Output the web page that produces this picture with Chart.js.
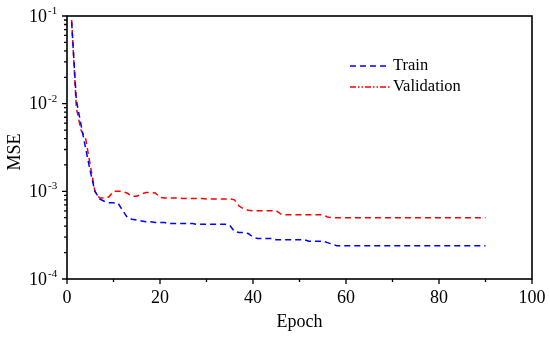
<!DOCTYPE html>
<html>
<head>
<meta charset="utf-8">
<script src="https://cdn.jsdelivr.net/npm/chart.js@4.4.0/dist/chart.umd.min.js"></script>
<style>
  body { margin: 0; background: #fff; }
  #wrap { width: 550px; height: 337px; }
</style>
</head>
<body>
<div id="wrap"><canvas id="myChart" width="550" height="337"></canvas></div>
<script>
// data (epoch 1..90)
var train = [
  0.085, 0.011, 0.0058, 0.0031, 0.0017, 0.001, 0.00082, 0.00077, 0.00074, 0.00074,
  0.00073, 0.0006, 0.0005, 0.00048, 0.00047, 0.00046, 0.00045, 0.00045, 0.00044, 0.00044,
  0.00044, 0.00043, 0.00043, 0.00043, 0.00043, 0.00043, 0.00043, 0.00042, 0.00042, 0.00042,
  0.00042, 0.00042, 0.00042, 0.00042, 0.00041, 0.00035, 0.00034, 0.00034, 0.00033, 0.0003,
  0.00029, 0.00029, 0.00029, 0.00029, 0.00028, 0.00028, 0.00028, 0.00028, 0.00028, 0.00028,
  0.00028, 0.00027, 0.00027, 0.00027, 0.00027, 0.00026, 0.00025, 0.00024, 0.00024, 0.00024,
  0.00024, 0.00024, 0.00024, 0.00024, 0.00024, 0.00024, 0.00024, 0.00024, 0.00024, 0.00024,
  0.00024, 0.00024, 0.00024, 0.00024, 0.00024, 0.00024, 0.00024, 0.00024, 0.00024, 0.00024,
  0.00024, 0.00024, 0.00024, 0.00024, 0.00024, 0.00024, 0.00024, 0.00024, 0.00024, 0.00024
];
var validation = [
  0.09, 0.009, 0.005, 0.004, 0.002, 0.001, 0.00084, 0.00084, 0.00086, 0.001,
  0.001, 0.001, 0.00095, 0.00088, 0.00088, 0.00093, 0.00097, 0.00097, 0.00096, 0.00085,
  0.00084, 0.00084, 0.00084, 0.00084, 0.00083, 0.00083, 0.00083, 0.00083, 0.00083, 0.00082,
  0.00082, 0.00082, 0.00082, 0.00082, 0.00082, 0.0008, 0.00068, 0.00063, 0.00061, 0.0006,
  0.0006, 0.0006, 0.0006, 0.0006, 0.0006, 0.00055, 0.00054, 0.00054, 0.00054, 0.00054,
  0.00054, 0.00054, 0.00054, 0.00054, 0.00054, 0.00051, 0.0005, 0.0005, 0.0005, 0.0005,
  0.0005, 0.0005, 0.0005, 0.0005, 0.0005, 0.0005, 0.0005, 0.0005, 0.0005, 0.0005,
  0.0005, 0.0005, 0.0005, 0.0005, 0.0005, 0.0005, 0.0005, 0.0005, 0.0005, 0.0005,
  0.0005, 0.0005, 0.0005, 0.0005, 0.0005, 0.0005, 0.0005, 0.0005, 0.0005, 0.0005
];
var xTicks = [0, 20, 40, 60, 80, 100];
var xMinorTicks = [10, 30, 50, 70, 90];
var yExponents = [-1, -2, -3, -4];
var seriesNames = ["Train", "Validation"];

var FONT = "'Liberation Serif', 'Times New Roman', serif";

function toPoints(arr) {
  return arr.map(function (v, i) { return { x: i + 1, y: v }; });
}

// frame, ticks, labels and legend drawn by hand
var axesPlugin = {
  id: 'axesPlugin',
  afterDraw: function (chart) {
    var ctx = chart.ctx;
    var a = chart.chartArea;
    var xs = chart.scales.x;
    var ys = chart.scales.y;
    ctx.save();
    ctx.strokeStyle = '#000';
    ctx.fillStyle = '#000';
    ctx.lineWidth = 1.6;
    ctx.setLineDash([]);
    ctx.strokeRect(a.left, a.top, a.right - a.left, a.bottom - a.top);

    // tick marks
    ctx.lineWidth = 1.3;
    ctx.beginPath();
    xTicks.forEach(function (t) {
      var px = xs.getPixelForValue(t);
      ctx.moveTo(px, a.bottom); ctx.lineTo(px, a.bottom + 5);
    });
    xMinorTicks.forEach(function (t) {
      var px = xs.getPixelForValue(t);
      ctx.moveTo(px, a.bottom); ctx.lineTo(px, a.bottom + 3);
    });
    yExponents.forEach(function (e) {
      var py = ys.getPixelForValue(Math.pow(10, e));
      ctx.moveTo(a.left, py); ctx.lineTo(a.left - 5, py);
      if (e < -1) {
        for (var m = 2; m <= 9; m++) {
          var pm = ys.getPixelForValue(m * Math.pow(10, e));
          ctx.moveTo(a.left, pm); ctx.lineTo(a.left - 3, pm);
        }
      }
    });
    ctx.stroke();

    // x labels
    ctx.font = '18px ' + FONT;
    ctx.textAlign = 'center';
    ctx.textBaseline = 'middle';
    xTicks.forEach(function (t) {
      ctx.fillText(String(t), xs.getPixelForValue(t), a.bottom + 19);
    });
    ctx.fillText('Epoch', (a.left + a.right) / 2, a.bottom + 43);

    // y labels 10^n
    yExponents.forEach(function (e) {
      var py = ys.getPixelForValue(Math.pow(10, e));
      ctx.font = '18px ' + FONT;
      ctx.textAlign = 'right';
      ctx.textBaseline = 'middle';
      ctx.fillText('10', 47, py + 1);
      ctx.font = '11px ' + FONT;
      ctx.textAlign = 'left';
      ctx.textBaseline = 'alphabetic';
      ctx.fillText(String(e), 48, py - 2);
    });

    ctx.save();
    ctx.translate(15, 152);
    ctx.rotate(-Math.PI / 2);
    ctx.font = '18px ' + FONT;
    ctx.textAlign = 'center';
    ctx.textBaseline = 'middle';
    ctx.fillText('MSE', 0, 0);
    ctx.restore();

    // legend
    var legendY = [66, 87];
    var colors = ['#0000ff', '#ff0000'];
    var dashes = [[6, 4], [6, 2, 1.5, 2, 1.5, 2]];
    for (var i = 0; i < 2; i++) {
      ctx.strokeStyle = colors[i];
      ctx.lineWidth = 1.5;
      ctx.setLineDash(dashes[i]);
      ctx.beginPath();
      ctx.moveTo(350, legendY[i]); ctx.lineTo(390, legendY[i]);
      ctx.stroke();
      ctx.setLineDash([]);
      ctx.fillStyle = '#000';
      ctx.font = '16.5px ' + FONT;
      ctx.textAlign = 'left';
      ctx.textBaseline = 'middle';
      ctx.fillText(seriesNames[i], 393, legendY[i]);
    }
    ctx.restore();
  }
};

var ctx = document.getElementById('myChart').getContext('2d');
var chart = new Chart(ctx, {
  type: 'line',
  data: {
    datasets: [{
        label: seriesNames[0],
        data: toPoints(train),
        borderColor: '#0000ff',
        borderWidth: 1.5,
        borderDash: [6, 4],
        pointRadius: 0,
        fill: false,
        tension: 0
      },
      {
        label: seriesNames[1],
        data: toPoints(validation),
        borderColor: '#ff0000',
        borderWidth: 1.5,
        borderDash: [6, 4],
        pointRadius: 0,
        fill: false,
        tension: 0
      }
    ]
  },
  options: {
    responsive: false,
    animation: false,
    layout: { padding: { left: 67, right: 18, top: 16, bottom: 58 } },
    plugins: { legend: { display: false }, tooltip: { enabled: false } },
    scales: {
      x: { type: 'linear', min: 0, max: 100, display: false },
      y: { type: 'logarithmic', min: 1e-4, max: 1e-1, display: false }
    }
  },
  plugins: [axesPlugin]
});
</script>
</body>
</html>
